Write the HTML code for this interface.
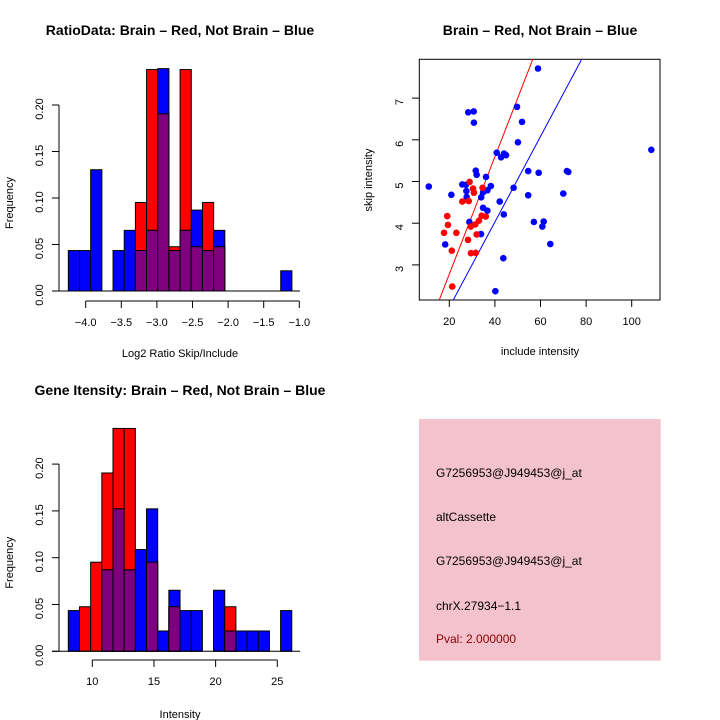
<!DOCTYPE html>
<html><head><meta charset="utf-8"><style>
body{margin:0;background:#fff;}
svg{display:block;font-family:"Liberation Sans",sans-serif;}
</style></head><body>
<svg id="c" width="720" height="720" viewBox="0 0 720 720"></svg>
<script>
// Panel 1: Log2 ratio histogram (bin index -> frequency)
const ratioBreakStart = -4.244;
const ratioBinWidth = 0.157;
const ratioRed  = [0,0,0,0,0,0,0.0952,0.2381,0.1905,0.0476,0.2381,0.0476,0.0952,0.0476,0,0,0,0,0,0];
const ratioBlue = [0.0435,0.0435,0.1304,0,0.0435,0.0652,0.0435,0.0652,0.2391,0.0435,0.0652,0.0870,0.0435,0.0652,0,0,0,0,0,0.0217];
const ratioXTicks = [-4.0,-3.5,-3.0,-2.5,-2.0,-1.5,-1.0];
const ratioXTickLabels = ["\u22124.0","\u22123.5","\u22123.0","\u22122.5","\u22122.0","\u22121.5","\u22121.0"];
const freqTicks = [0,0.05,0.10,0.15,0.20];
const freqTickLabels = ["0.00","0.05","0.10","0.15","0.20"];
// Panel 3: intensity histogram
const intBreakStart = 8.054;
const intBinWidth = 0.906;
const intRed  = [0,0.0476,0.0952,0.1905,0.2381,0.2381,0,0.0952,0,0.0476,0,0,0,0,0.0476,0,0,0,0,0];
const intBlue = [0.0435,0,0,0.0870,0.1522,0.0870,0.1087,0.1522,0.0217,0.0652,0.0435,0.0435,0,0.0652,0.0217,0.0217,0.0217,0.0217,0,0.0435];
const intXTicks = [10,15,20,25];
// Panel 2: scatter
const redX = [28.9,30.4,30.8,34.6,25.7,28.5,19.1,19.4,34.2,36.0,33.0,31.4,29.4,17.7,23.1,32.0,28.2,21.1,29.5,31.6,21.3];
const redY = [4.99,4.83,4.73,4.85,4.52,4.53,4.17,3.96,4.18,4.16,4.06,3.97,3.92,3.77,3.77,3.73,3.60,3.34,3.28,3.29,2.48];
const blueX = [58.9,108.6,49.7,28.3,30.7,30.8,51.9,50.1,40.8,42.7,44.0,44.9,31.6,32.0,54.6,59.2,71.6,72.2,11.0,25.7,27.3,36.1,38.2,48.2,20.9,27.5,27.6,34.0,34.8,36.7,54.6,70.0,42.1,34.8,36.7,43.9,28.8,57.1,61.4,60.8,33.9,18.2,64.3,43.7,40.2];
const blueY = [7.71,5.76,6.79,6.66,6.68,6.41,6.43,5.94,5.69,5.58,5.67,5.63,5.26,5.16,5.25,5.21,5.25,5.23,4.88,4.93,4.92,5.11,4.89,4.85,4.68,4.77,4.63,4.62,4.74,4.79,4.67,4.71,4.52,4.37,4.30,4.21,4.03,4.03,4.04,3.92,3.74,3.49,3.50,3.16,2.37];
const redFit = [-0.035, 0.1407];
const blueFit = [-0.07, 0.1025];
const scXTicks = [20,40,60,80,100];
const scYTicks = [3,4,5,6,7];

const NS="http://www.w3.org/2000/svg";
const svg=document.getElementById('c');
function mk(tag,attrs,parent){const e=document.createElementNS(NS,tag);for(const k in attrs)e.setAttribute(k,attrs[k]);(parent||svg).appendChild(e);return e;}
function txt(x,y,s,size,opts){opts=opts||{};const t=mk('text',{x:x,y:y,'font-size':size,'text-anchor':opts.anchor||'middle',fill:opts.fill||'#000','font-weight':opts.bold?'bold':'normal'});if(opts.rot)t.setAttribute('transform','rotate(-90 '+x+' '+y+')');t.textContent=s;return t;}

function hist(o){
  const sx=v=>o.x0px+(v-o.xv0)*o.xs, sy=v=>o.y0px-v*o.ys;
  const g=mk('g',{});
  
  
  for(let i=0;i<o.red.length;i++){
    const l=sx(o.start+i*o.bw), r=sx(o.start+(i+1)*o.bw);
    const rv=o.red[i], bv=o.blue[i];
    if(rv>0){const b=mk('rect',{x:l,y:sy(rv),width:r-l,height:sy(0)-sy(rv),fill:'#ff0000',stroke:'#000','stroke-width':1},g);
      
      }
    if(bv>0){const b=mk('rect',{x:l,y:sy(bv),width:r-l,height:sy(0)-sy(bv),fill:'#0000ff',stroke:'#000','stroke-width':1},g);
      
      }
    const m=Math.min(rv,bv);
    if(m>0){const b=mk('rect',{x:l,y:sy(m),width:r-l,height:sy(0)-sy(m),fill:'#7f007f',stroke:'#000','stroke-width':1},g);
      
      }
  }
  mk('line',{x1:52,y1:sy(0),x2:300,y2:sy(0),stroke:'#000','stroke-width':1});
  const ya=mk('g',{});
  
  
  mk('line',{x1:59,y1:sy(0),x2:59,y2:sy(0.20),stroke:'#000'},ya);
  freqTicks.forEach((v,i)=>{mk('line',{x1:52,y1:sy(v),x2:59,y2:sy(v),stroke:'#000'},ya);txt(43,sy(v)+4,freqTickLabels[i],11,{rot:true});});
  const xa=mk('g',{});
  
  
  const ay=o.axisY;
  mk('line',{x1:sx(o.xt[0]),y1:ay,x2:sx(o.xt[o.xt.length-1]),y2:ay,stroke:'#000'},xa);
  o.xt.forEach((v,i)=>{mk('line',{x1:sx(v),y1:ay,x2:sx(v),y2:ay+7,stroke:'#000'},xa);txt(sx(v),ay+25,o.xl[i],11);});
  const yt=txt(13,(sy(0)+sy(0.2))/2+5,'Frequency',11,{rot:true});
  
  const xt=txt(180,o.xlabY,o.xlab,11);
  
  const tt=txt(o.titleX,o.titleY,o.title,14,{bold:true});
  
}
hist({name:'ratio-histogram',red:ratioRed,blue:ratioBlue,start:ratioBreakStart,bw:ratioBinWidth,x0px:85.7,xv0:-4.0,xs:71.2,y0px:291,ys:930,xt:ratioXTicks,xl:ratioXTickLabels,axisY:301,xlab:'Log2 Ratio Skip/Include',xlabY:357,title:'RatioData: Brain \u2013 Red, Not Brain \u2013 Blue',titleX:180,titleY:35});
hist({name:'intensity-histogram',red:intRed,blue:intBlue,start:intBreakStart,bw:intBinWidth,x0px:92.3,xv0:10,xs:12.333,y0px:651.3,ys:936,xt:intXTicks,xl:intXTicks.map(String),axisY:660,xlab:'Intensity',xlabY:718,title:'Gene Itensity: Brain \u2013 Red, Not Brain \u2013 Blue',titleX:180,titleY:395});

(function(){
  const sx=v=>403.7+v*2.28, sy=v=>390-v*41.7;
  const g=mk('g',{});
  
  
  const fr=mk('rect',{x:419.3,y:59.3,width:240.7,height:240.7,fill:'none',stroke:'#000','stroke-width':1},g);
  
  
  scXTicks.forEach(v=>{mk('line',{x1:sx(v),y1:300,x2:sx(v),y2:307,stroke:'#000'},g);txt(sx(v),325,String(v),11);});
  scYTicks.forEach(v=>{mk('line',{x1:412,y1:sy(v),x2:419.3,y2:sy(v),stroke:'#000'},g);txt(403,sy(v)+4,String(v),11,{rot:true});});
  const cp=mk('clipPath',{id:'cp'});mk('rect',{x:419.3,y:59.3,width:240.7,height:240.7},cp);
  const lg=mk('g',{'clip-path':'url(#cp)'},g);
  [[redFit,'#ff0000','red-fit-line'],[blueFit,'#0000ff','blue-fit-line']].forEach(f=>{
    const a=f[0][0],b=f[0][1];
    const l=mk('line',{x1:sx(0),y1:sy(a),x2:sx(130),y2:sy(a+b*130),stroke:f[1],'stroke-width':1},lg);
    
    
  });
  blueX.forEach((x,i)=>{const c=mk('circle',{cx:sx(x),cy:sy(blueY[i]),r:3.3,fill:'#0000ff'},g);
    
    });
  redX.forEach((x,i)=>{const c=mk('circle',{cx:sx(x),cy:sy(redY[i]),r:3.3,fill:'#ff0000'},g);
    
    });
  const t=txt(540,355,'include intensity',11);
  const yt=txt(372,180,'skip intensity',11,{rot:true});
  const tt=txt(540,35,'Brain \u2013 Red, Not Brain \u2013 Blue',14,{bold:true});
})();

(function(){
  const g=mk('g',{});
  
  
  mk('rect',{x:419,y:419,width:241.7,height:241.7,fill:'#f3c2cc'},g);
  const lines=[['G7256953@J949453@j_at',477,'#000'],['altCassette',521,'#000'],['G7256953@J949453@j_at',565,'#000'],['chrX.27934\u22121.1',610,'#000'],['Pval: 2.000000',643,'#8b0000']];
  const names=['probe-id','event-type','gene-id','chromosome-label','pval-label'];
  lines.forEach((l,i)=>{const t=txt(436,l[1],l[0],12,{anchor:'start',fill:l[2]});g.appendChild(t);
    });
})();
</script>
</body></html>
